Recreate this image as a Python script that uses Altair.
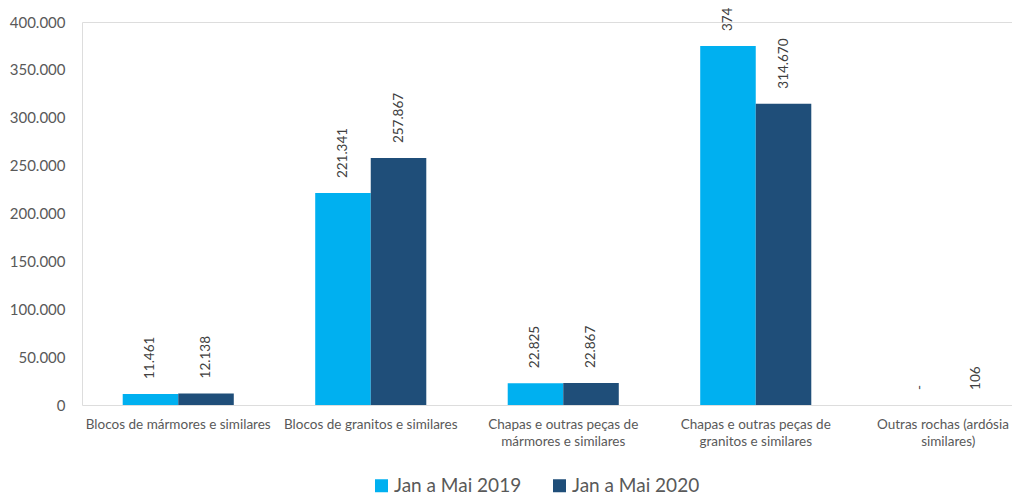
import altair as alt
import pandas as pd

categories = [
    "Blocos de mármores e similares",
    "Blocos de granitos e similares",
    "Chapas e outras peças de mármores e similares",
    "Chapas e outras peças de granitos e similares",
    "Outras rochas (ardósia e similares)",
]
wrapped = {
    "Blocos de mármores e similares": ["Blocos de mármores e similares"],
    "Blocos de granitos e similares": ["Blocos de granitos e similares"],
    "Chapas e outras peças de mármores e similares": ["Chapas e outras peças de", "mármores e similares"],
    "Chapas e outras peças de granitos e similares": ["Chapas e outras peças de", "granitos e similares"],
    "Outras rochas (ardósia e similares)": ["Outras rochas (ardósia e", "similares)"],
}
series = ["Jan a Mai 2019", "Jan a Mai 2020"]
values_2019 = [11461, 221341, 22825, 374850, 0]
values_2020 = [12138, 257867, 22867, 314670, 106]
colors = ["#00B0F0", "#1F4E79"]
y_ticks = [0, 50000, 100000, 150000, 200000, 250000, 300000, 350000, 400000]


def fmt(v):
    if v == 0:
        return "-"
    return f"{v:,}".replace(",", ".")


rows = []
for c, a, b in zip(categories, values_2019, values_2020):
    rows.append({"cat": c, "serie": series[0], "valor": a, "rotulo": fmt(a)})
    rows.append({"cat": c, "serie": series[1], "valor": b, "rotulo": fmt(b)})
df = pd.DataFrame(rows)

label_map = "{" + ",".join(
    "'" + k + "':[" + ",".join("'" + s + "'" for s in v) + "]" for k, v in wrapped.items()
) + "}"

x_enc = alt.X(
    "cat:N",
    sort=categories,
    title=None,
    scale=alt.Scale(range=[0, 962.5], paddingInner=0.423, paddingOuter=0.2115),
    axis=alt.Axis(
        labelAngle=0,
        domain=False,
        ticks=False,
        labelFont="Lato",
        labelFontSize=13.5,
        labelColor="#595959",
        labelPadding=12,
        labelLineHeight=17,
        labelLimit=400,
        labelExpr=label_map + "[datum.label]",
    ),
)
y_enc = alt.Y(
    "valor:Q",
    title=None,
    scale=alt.Scale(domain=[0, 400000]),
    axis=alt.Axis(
        values=y_ticks,
        domain=False,
        ticks=False,
        grid=False,
        labelFont="Lato",
        labelFontSize=15,
        labelColor="#595959",
        labelPadding=17,
        labelExpr="replace(format(datum.value, ','), ',', '.')",
    ),
)
xoff = alt.XOffset("serie:N", sort=series, scale=alt.Scale(paddingInner=0, paddingOuter=0))

bars = alt.Chart(df).mark_bar().encode(
    x=x_enc,
    y=y_enc,
    xOffset=xoff,
    color=alt.Color(
        "serie:N",
        sort=series,
        scale=alt.Scale(domain=series, range=colors),
        legend=alt.Legend(
            title=None,
            orient="none",
            legendX=290,
            legendY=454,
            direction="horizontal",
            symbolType="square",
            symbolSize=169,
            symbolStrokeWidth=0,
            labelFont="Lato",
            labelFontSize=19,
            labelColor="#595959",
            labelOffset=3,
            columnPadding=28,
        ),
    ),
)

labels = alt.Chart(df).mark_text(
    angle=270, align="left", baseline="middle", dx=15, font="Lato", fontSize=13.5, color="#404040"
).encode(
    x=alt.X("cat:N", sort=categories),
    y=alt.Y("valor:Q"),
    xOffset=alt.XOffset("serie:N", sort=series),
    text="rotulo:N",
)

chart = (
    alt.layer(bars, labels)
    .properties(
        width=930,
        height=383,
        autosize=alt.AutoSizeParams(type="none"),
        padding={"left": 74, "top": 14, "right": 0, "bottom": 88},
    )
    .configure_view(stroke=None)
    .configure(background="white")
)

chart.save("out.html", embed_options={"renderer": "svg", "actions": False})
